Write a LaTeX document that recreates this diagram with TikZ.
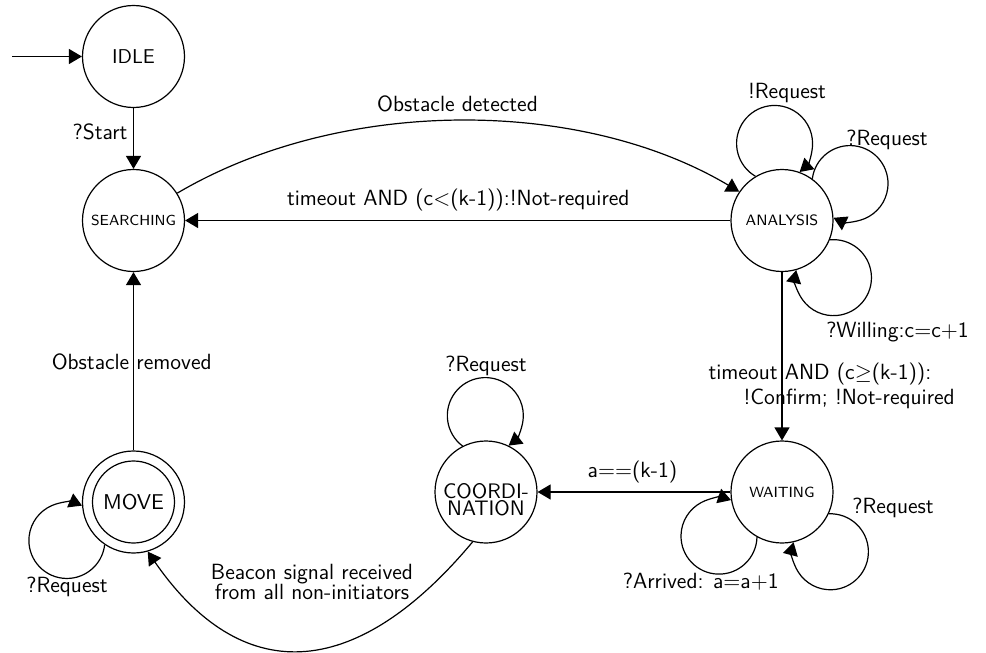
\documentclass[tikz,border=0pt]{standalone}
\usetikzlibrary{arrows.meta}
\tikzset{
  state/.style={circle, draw, line width=0.6pt, minimum size=51pt, inner sep=0pt, font=\sffamily},
  edge/.style={draw, line width=0.6pt, -{Triangle[length=6.5pt,width=7.5pt]}},
  lbl/.style={font=\sffamily\fontsize{11}{13}\selectfont, inner sep=0pt},
}
\newcommand\nrad{25.8}
\newcommand\lrad{19}
% #1 node, #2 start angle on node, #3 end angle on node
\newcommand\mkloop[3]{%
  \pgfmathsetmacro\lpphi{(#2+#3)/2}%
  \pgfmathsetmacro\lpal{(#2-#3)/2}%
  \pgfmathsetmacro\lpbeta{180-atan2(\nrad*sin(abs(\lpal)), sqrt(\lrad*\lrad-(\nrad*sin(\lpal))^2))}%
  \pgfmathsetmacro\lpb{ifthenelse(\lpal>0, \lpbeta, -\lpbeta)}%
  \pgfmathsetmacro\lpst{\lpphi+\lpb}%
  \pgfmathsetmacro\lpen{\lpphi-\lpb}%
  \draw[edge] (#1.#2) arc[start angle=\lpst, end angle=\lpen, radius=\lrad pt];%
}
\begin{document}
\begin{tikzpicture}[x=0.5pt, y=-0.5pt]
\useasboundingbox (0,0) rectangle (986,653);

% states
\node[state, font=\sffamily\fontsize{10}{12}\selectfont] (I) at (133.5,56.5) {IDLE};
\node[state, font=\sffamily\fontsize{7.3}{9}\selectfont] (S) at (133.5,220.5) {SEARCHING};
\node[state, font=\sffamily\fontsize{7.5}{9}\selectfont] (A) at (782,220.5) {ANALYSIS};
\node[state, font=\sffamily\fontsize{7.4}{9}\selectfont] (W) at (782,492) {WAITING};
\node[state, label={[font=\sffamily\fontsize{10.5}{8.3}\selectfont, align=center, inner sep=0pt, yshift=-4pt]center:COORDI-\\NATION}] (C) at (486,492) {};
\node[state, font=\sffamily\fontsize{10.7}{12}\selectfont] (M) at (133.5,502) {MOVE};
\draw[line width=0.6pt] (M.center) circle[radius=20.5pt];

% initial arrow
\coordinate (init) at (12,56.5);
\draw[edge] (init) -- (I);

% transitions
\draw[edge] (I) -- (S) node[lbl, anchor=east] (lStart) at (128,132) {?Start};
\draw[edge] (S.32) .. controls (340,97) and (580,97) .. (A.146.6)
  node[lbl] (lDet) at (457.5,104.3) {Obstacle detected};
\draw[edge] (A) -- (S)
  node[lbl] (lNot) at (458.3,200) {timeout AND (c$<$(k-1)):!Not-required};
\draw[edge] (A) -- (W)
  node[lbl, anchor=west, align=left, font=\sffamily\fontsize{11}{12.5}\selectfont] (lConf) at (708,385.5)
  {timeout AND (c$\geq$(k-1)):\\\hspace*{17.5pt}!Confirm; !Not-required};
\draw[edge] (W) -- (C) node[lbl] (lEq) at (632.5,472) {a$==$(k-1)};
\draw[edge] (M) -- (S) node[lbl] (lRem) at (131.7,361.7) {Obstacle removed};
\draw[edge] (C.-105) .. controls (353,685) and (240,685) .. (M.-74)
  node[lbl, align=center, font=\sffamily\fontsize{11}{10}\selectfont] (lBeacon) at (312,582)
  {Beacon signal received\\from all non-initiators};

% self loops
\mkloop{A}{121}{70}
\node[lbl] (lA1) at (787,93.3) {!Request};
\mkloop{A}{54}{3}
\node[lbl] (lA2) at (887,140) {?Request};
\mkloop{A}{-22}{-74}
\node[lbl] (lA3) at (897.5,331.7) {?Willing:c$=$c$+$1};
\mkloop{C}{117}{64}
\node[lbl] (lC1) at (486,366) {?Request};
\mkloop{W}{241}{189}
\node[lbl, anchor=east] (lW1) at (779,582) {?Arrived: a$=$a$+$1};
\mkloop{W}{-25}{-77}
\node[lbl, anchor=west] (lW2) at (852,508) {?Request};
\mkloop{M}{236}{184}
\node[lbl] (lM1) at (67,587) {?Request};
\end{tikzpicture}
\end{document}
